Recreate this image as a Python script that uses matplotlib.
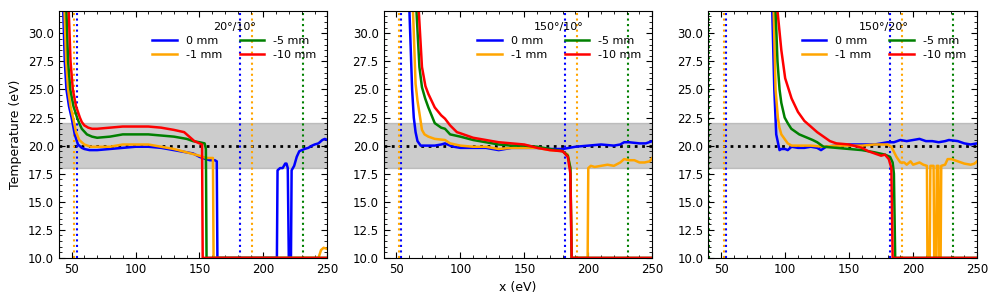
import matplotlib
matplotlib.use("Agg")
import matplotlib.pyplot as plt
from matplotlib.ticker import MultipleLocator

# panel titles and series labels
titles = ["20°/10°", "150°/10°", "150°/20°"]
labels = ["0 mm", "-1 mm", "-5 mm", "-10 mm"]
colors = ["blue", "orange", "green", "red"]

# panel 1: 20°/10°
p1_blue_x = [42, 43.5, 44.7, 46, 48, 50, 52.5, 55, 58, 60, 64, 70, 80, 90, 100, 110, 120, 125, 130, 135, 140, 145, 150, 155, 158, 162, 163.5, 164,
             210.5, 211, 213, 215, 217, 218, 219, 219.8, 221.5, 222, 224, 226, 228, 230, 232, 235, 238, 240, 243, 246, 248, 250]
p1_blue_y = [38, 32, 27.5, 25, 23.5, 22.5, 21, 20.1, 19.8, 19.7, 19.6, 19.6, 19.7, 19.8, 19.9, 19.9, 19.8, 19.7, 19.6, 19.5, 19.4, 19.3, 19.0, 18.8, 18.7, 18.7, 18.6, 10,
             10, 17.8, 18.0, 18.0, 18.4, 18.4, 18.0, 10, 10, 17.8, 18.2, 19.0, 19.5, 19.6, 19.7, 19.8, 20.0, 20.1, 20.2, 20.5, 20.6, 20.5]
p1_orange_x = [43, 44.5, 45.8, 47.3, 49.2, 51.2, 53.5, 56, 60, 65, 70, 80, 90, 100, 110, 120, 130, 140, 150, 155, 160.5, 161, 243, 245, 247, 250]
p1_orange_y = [38, 32, 27.5, 25, 23.5, 22.5, 21.2, 20.5, 20.1, 19.9, 19.9, 19.9, 20.1, 20.1, 20.1, 19.9, 19.7, 19.4, 19.1, 18.9, 18.9, 10, 10, 10.7, 10.9, 10.8]
p1_green_x = [44.5, 46, 47.3, 49, 51.5, 54.3, 56, 58, 62, 66, 70, 80, 90, 100, 110, 120, 130, 140, 145, 150, 154, 155, 155.5, 250]
p1_green_y = [38, 32, 27.5, 25, 23.5, 22.5, 22.0, 21.5, 21.0, 20.8, 20.7, 20.8, 21.0, 21.0, 21.0, 20.9, 20.8, 20.6, 20.4, 20.3, 20.2, 19.7, 10, 10]
p1_red_x = [46.3, 47.8, 49.2, 51, 53.5, 56.5, 58, 60, 63, 66, 70, 80, 90, 100, 110, 120, 130, 138, 142, 146, 150, 152, 152.5, 250]
p1_red_y = [38, 32, 27.5, 25, 23.5, 22.5, 22.1, 21.8, 21.6, 21.5, 21.5, 21.6, 21.7, 21.7, 21.7, 21.6, 21.4, 21.2, 20.8, 20.4, 20.2, 20.1, 10, 10]

# panel 2: 150°/10°
p2_blue_x = [59.5, 60.2, 62.3, 63.6, 65, 66.5, 69, 75, 80, 85, 88, 92, 95, 100, 110, 120, 130, 135, 140, 150, 160, 170, 180,
             185, 190, 200, 210, 220, 225, 228, 232, 240, 245, 250]
p2_blue_y = [38, 32, 25, 22.5, 21.2, 20.4, 20.0, 20.0, 20.0, 20.1, 20.2, 20.0, 19.9, 19.8, 19.8, 19.8, 19.6, 19.7, 19.8, 19.8, 19.8, 19.7, 19.7,
             19.8, 19.9, 20.0, 20.1, 20.0, 20.1, 20.3, 20.3, 20.2, 20.2, 20.4]
p2_orange_x = [62.2, 63, 65, 66.5, 68, 70, 72, 75, 80, 88, 92, 100, 110, 120, 130, 140, 150, 160, 170, 180, 184, 186, 187,
               199.5, 200, 202, 205, 210, 215, 220, 225, 228, 232, 236, 240, 244, 248, 250]
p2_orange_y = [38, 32, 25.5, 24.0, 22.9, 21.4, 21.0, 20.8, 20.6, 20.5, 20.2, 20.0, 19.9, 19.9, 19.7, 19.8, 19.8, 19.8, 19.6, 19.5, 19.2, 18.0, 10,
               10, 18.0, 18.2, 18.1, 18.2, 18.3, 18.2, 18.5, 18.8, 18.7, 18.7, 18.5, 18.5, 18.6, 18.9]
p2_green_x = [64.8, 65.7, 68, 70, 72.5, 75, 80, 85, 88, 92, 100, 110, 120, 130, 140, 150, 160, 170, 180, 184, 186, 187, 250]
p2_green_y = [38, 32, 27, 25.2, 24.2, 23.4, 22.0, 21.6, 21.5, 21.0, 20.8, 20.5, 20.3, 20.1, 20.0, 20.0, 19.9, 19.7, 19.5, 19.1, 18.0, 10, 10]
p2_red_x = [66.5, 67.5, 70, 72.7, 75, 80, 85, 88, 92, 97.3, 100, 105, 110, 120, 130, 140, 150, 160, 170, 180, 184, 186, 187, 250]
p2_red_y = [38, 32, 27, 25.3, 24.6, 23.4, 22.7, 22.4, 21.8, 21.2, 21.1, 20.9, 20.7, 20.5, 20.3, 20.2, 20.1, 19.8, 19.6, 19.5, 19.0, 17.5, 10, 10]

# panel 3: 150°/20°
p3_blue_x = [89.5, 89.9, 91.5, 93, 95.6, 97, 100, 102, 105, 110, 115, 120, 125, 128, 132, 140, 150, 160, 170, 180, 185,
             190, 195, 200, 205, 210, 215, 220, 225, 228, 235, 240, 245, 250]
p3_blue_y = [38, 32, 25, 21, 19.6, 19.7, 19.7, 19.6, 19.9, 19.8, 19.8, 19.9, 19.8, 19.6, 19.9, 20.0, 20.1, 20.1, 20.1, 20.3, 20.3,
             20.5, 20.4, 20.5, 20.6, 20.4, 20.4, 20.3, 20.4, 20.5, 20.4, 20.2, 20.1, 20.2]
p3_orange_x = [90.5, 91, 92.5, 94.3, 95.5, 97, 102, 105, 110, 120, 130, 140, 150, 160, 170, 180, 183, 187, 190, 193, 195, 198, 200, 205, 208,
               210.8, 211.2, 213, 213.5, 216, 216.5, 218, 218.5, 219.8, 220.2, 221.5, 222, 225, 227, 230, 235, 240, 245, 248, 250]
p3_orange_y = [38, 32, 25, 22.5, 21.6, 21, 20.2, 20.0, 20.0, 20.0, 19.9, 20.0, 20.0, 20.0, 20.1, 20.1, 19.9, 19.0, 18.5, 18.5, 18.3, 18.6, 18.3, 18.5, 18.3,
               18.2, 10, 10, 18.2, 18.2, 10, 10, 18.2, 18.2, 10, 10, 18.2, 18.3, 18.8, 18.8, 18.6, 18.4, 18.3, 18.4, 18.6]
p3_green_x = [92, 92.5, 94, 95.6, 97, 99.6, 102, 104.8, 111, 121.5, 125, 130, 140, 150, 160, 170, 178, 182, 184, 185, 186, 250]
p3_green_y = [38, 32, 27.5, 25, 23.8, 22.5, 22.0, 21.5, 21.0, 20.5, 20.3, 19.9, 19.8, 19.7, 19.6, 19.4, 19.2, 19.0, 18.5, 17.5, 10, 10]
p3_red_x = [93.5, 94, 97, 100, 105, 110, 115, 120, 125, 130, 135, 140, 150, 160, 165, 170, 175, 178, 181, 183, 184, 250]
p3_red_y = [38, 32, 28.5, 26, 24.2, 23.0, 22.2, 21.7, 21.2, 20.8, 20.4, 20.2, 20.1, 19.8, 19.5, 19.3, 19.1, 19.2, 18.8, 18.0, 10, 10]

panels = [
    [(p1_blue_x, p1_blue_y), (p1_orange_x, p1_orange_y), (p1_green_x, p1_green_y), (p1_red_x, p1_red_y)],
    [(p2_blue_x, p2_blue_y), (p2_orange_x, p2_orange_y), (p2_green_x, p2_green_y), (p2_red_x, p2_red_y)],
    [(p3_blue_x, p3_blue_y), (p3_orange_x, p3_orange_y), (p3_green_x, p3_green_y), (p3_red_x, p3_red_y)],
]

# dotted markers (x positions) per colour
vline_x = [54, 182, 52, 191, 40.4, 231]
vline_c = ["blue", "blue", "orange", "orange", "green", "green"]

fig, axes = plt.subplots(1, 3, figsize=(9.96, 3.02), dpi=100)
fig.subplots_adjust(left=0.059, right=0.981, top=0.964, bottom=0.146, wspace=0.209)

for ax, title, series in zip(axes, titles, panels):
    ax.axhspan(18, 22, color="grey", alpha=0.4, zorder=0)
    ax.axhline(20, color="black", ls=":", lw=2, zorder=1)
    for xv, cv in zip(vline_x, vline_c):
        ax.axvline(xv, color=cv, ls=":", lw=1.5, zorder=1)
    for (xs, ys), c, lab in zip(series, colors, labels):
        ax.plot(xs, ys, color=c, lw=1.8, label=lab, zorder=2)
    ax.set_xlim(40, 250)
    ax.set_ylim(10, 32)
    ax.yaxis.set_major_locator(MultipleLocator(2.5))
    ax.yaxis.set_minor_locator(MultipleLocator(0.5))
    ax.xaxis.set_major_locator(MultipleLocator(50))
    ax.xaxis.set_minor_locator(MultipleLocator(10))
    ax.tick_params(which="both", direction="in", top=True, right=True, labelsize=8.5)
    ax.tick_params(which="major", length=4)
    ax.tick_params(which="minor", length=2)
    ax.legend(title=title, ncol=2, loc="upper right", frameon=False, fontsize=8,
              title_fontsize=8, handlelength=2.2, columnspacing=1.6, labelspacing=0.35,
              borderaxespad=0.6)

axes[0].set_ylabel("Temperature (eV)", fontsize=9)
axes[1].set_xlabel("x (eV)", fontsize=9)

plt.savefig("out.png", dpi=100)
